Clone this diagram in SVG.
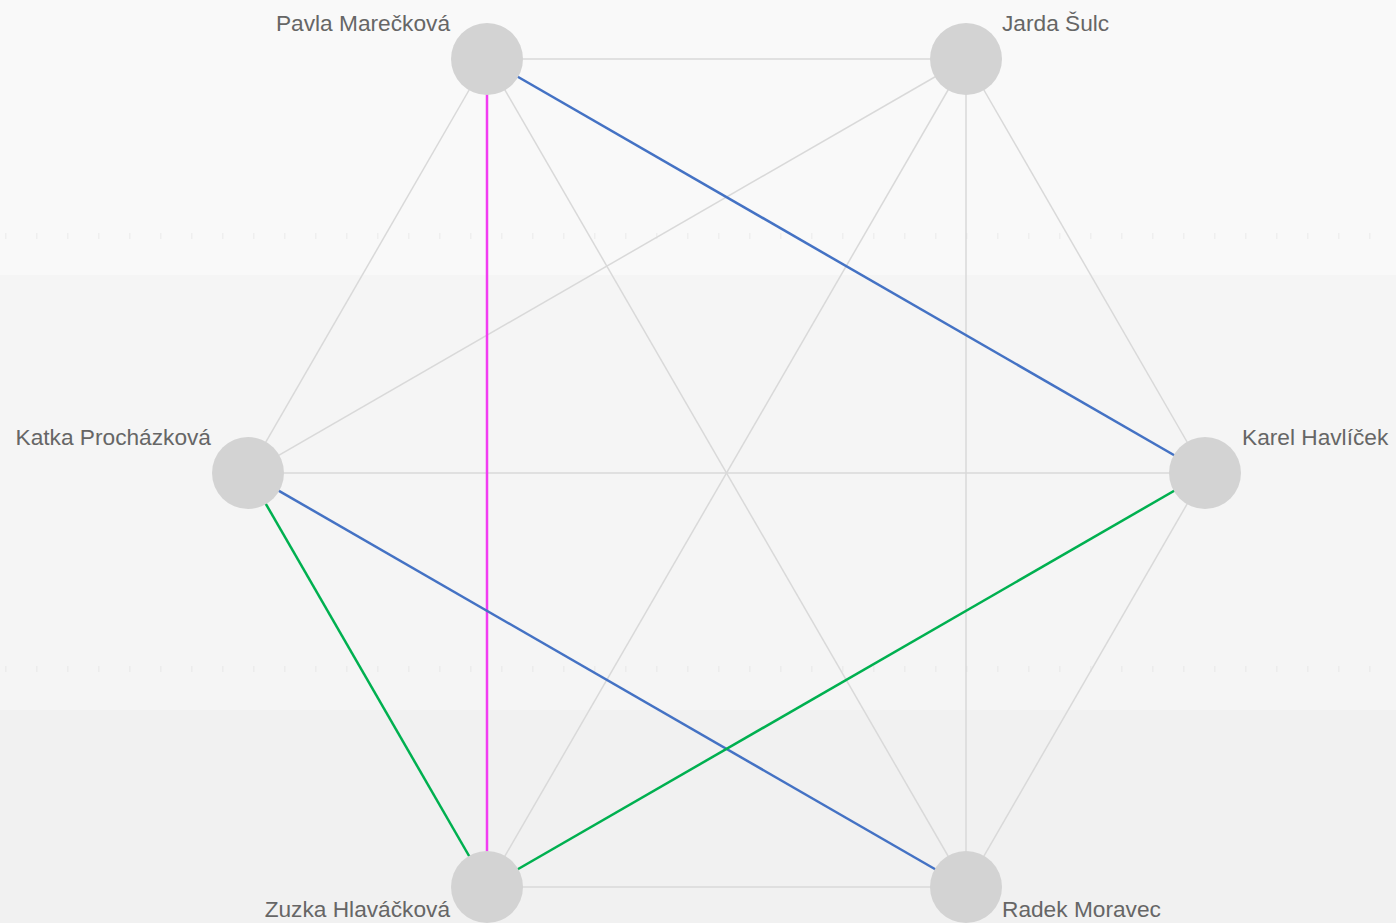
<svg xmlns="http://www.w3.org/2000/svg" width="1396" height="923" viewBox="0 0 1396 923">
<style>
.lbl{font-family:"Liberation Sans",Arial,sans-serif;font-size:22.7px;fill:#666666}
.g{stroke:#d9d9d9;stroke-width:1.5;fill:none}
.b{stroke:#4472c4;stroke-width:2.5;fill:none}
.m{stroke:#f23cf2;stroke-width:2.5;fill:none}
.gr{stroke:#00b050;stroke-width:2.5;fill:none}
.node{fill:#d3d3d3}
</style>
<rect x="0" y="0" width="1396" height="275" fill="#f9f9f9"/>
<rect x="0" y="275" width="1396" height="435" fill="#f5f5f5"/>
<rect x="0" y="710" width="1396" height="213" fill="#f1f1f1"/>
<line x1="5" y1="236" x2="1396" y2="236" stroke="#efefef" stroke-width="6" stroke-dasharray="1.5 29.5"/>
<line x1="5" y1="669" x2="1396" y2="669" stroke="#ececec" stroke-width="6" stroke-dasharray="1.5 29.5"/>
<g id="connectors">
<line class="g" x1="487" y1="59" x2="966" y2="59"/>
<line class="g" x1="487" y1="59" x2="248" y2="473"/>
<line class="g" x1="487" y1="59" x2="966" y2="887"/>
<line class="g" x1="966" y1="59" x2="248" y2="473"/>
<line class="g" x1="966" y1="59" x2="487" y2="887"/>
<line class="g" x1="966" y1="59" x2="966" y2="887"/>
<line class="g" x1="966" y1="59" x2="1205" y2="473"/>
<line class="g" x1="248" y1="473" x2="1205" y2="473"/>
<line class="g" x1="1205" y1="473" x2="966" y2="887"/>
<line class="g" x1="487" y1="887" x2="966" y2="887"/>
<line class="b" x1="487" y1="59" x2="1205" y2="473"/>
<line class="m" x1="487" y1="59" x2="487" y2="887"/>
<line class="b" x1="248" y1="473" x2="966" y2="887"/>
<line class="gr" x1="248" y1="473" x2="487" y2="887"/>
<line class="gr" x1="1205" y1="473" x2="487" y2="887"/>
</g>
<g id="pavla"><circle class="node" cx="487" cy="59" r="36"/><text class="lbl" x="450" y="31" text-anchor="end">Pavla Marečková</text></g>
<g id="jarda"><circle class="node" cx="966" cy="59" r="36"/><text class="lbl" x="1002" y="31">Jarda Šulc</text></g>
<g id="karel"><circle class="node" cx="1205" cy="473" r="36"/><text class="lbl" x="1242" y="445">Karel Havlíček</text></g>
<g id="radek"><circle class="node" cx="966" cy="887" r="36"/><text class="lbl" x="1002" y="917">Radek Moravec</text></g>
<g id="zuzka"><circle class="node" cx="487" cy="887" r="36"/><text class="lbl" x="450" y="917" text-anchor="end">Zuzka Hlaváčková</text></g>
<g id="katka"><circle class="node" cx="248" cy="473" r="36"/><text class="lbl" x="211" y="445" text-anchor="end">Katka Procházková</text></g>
</svg>
